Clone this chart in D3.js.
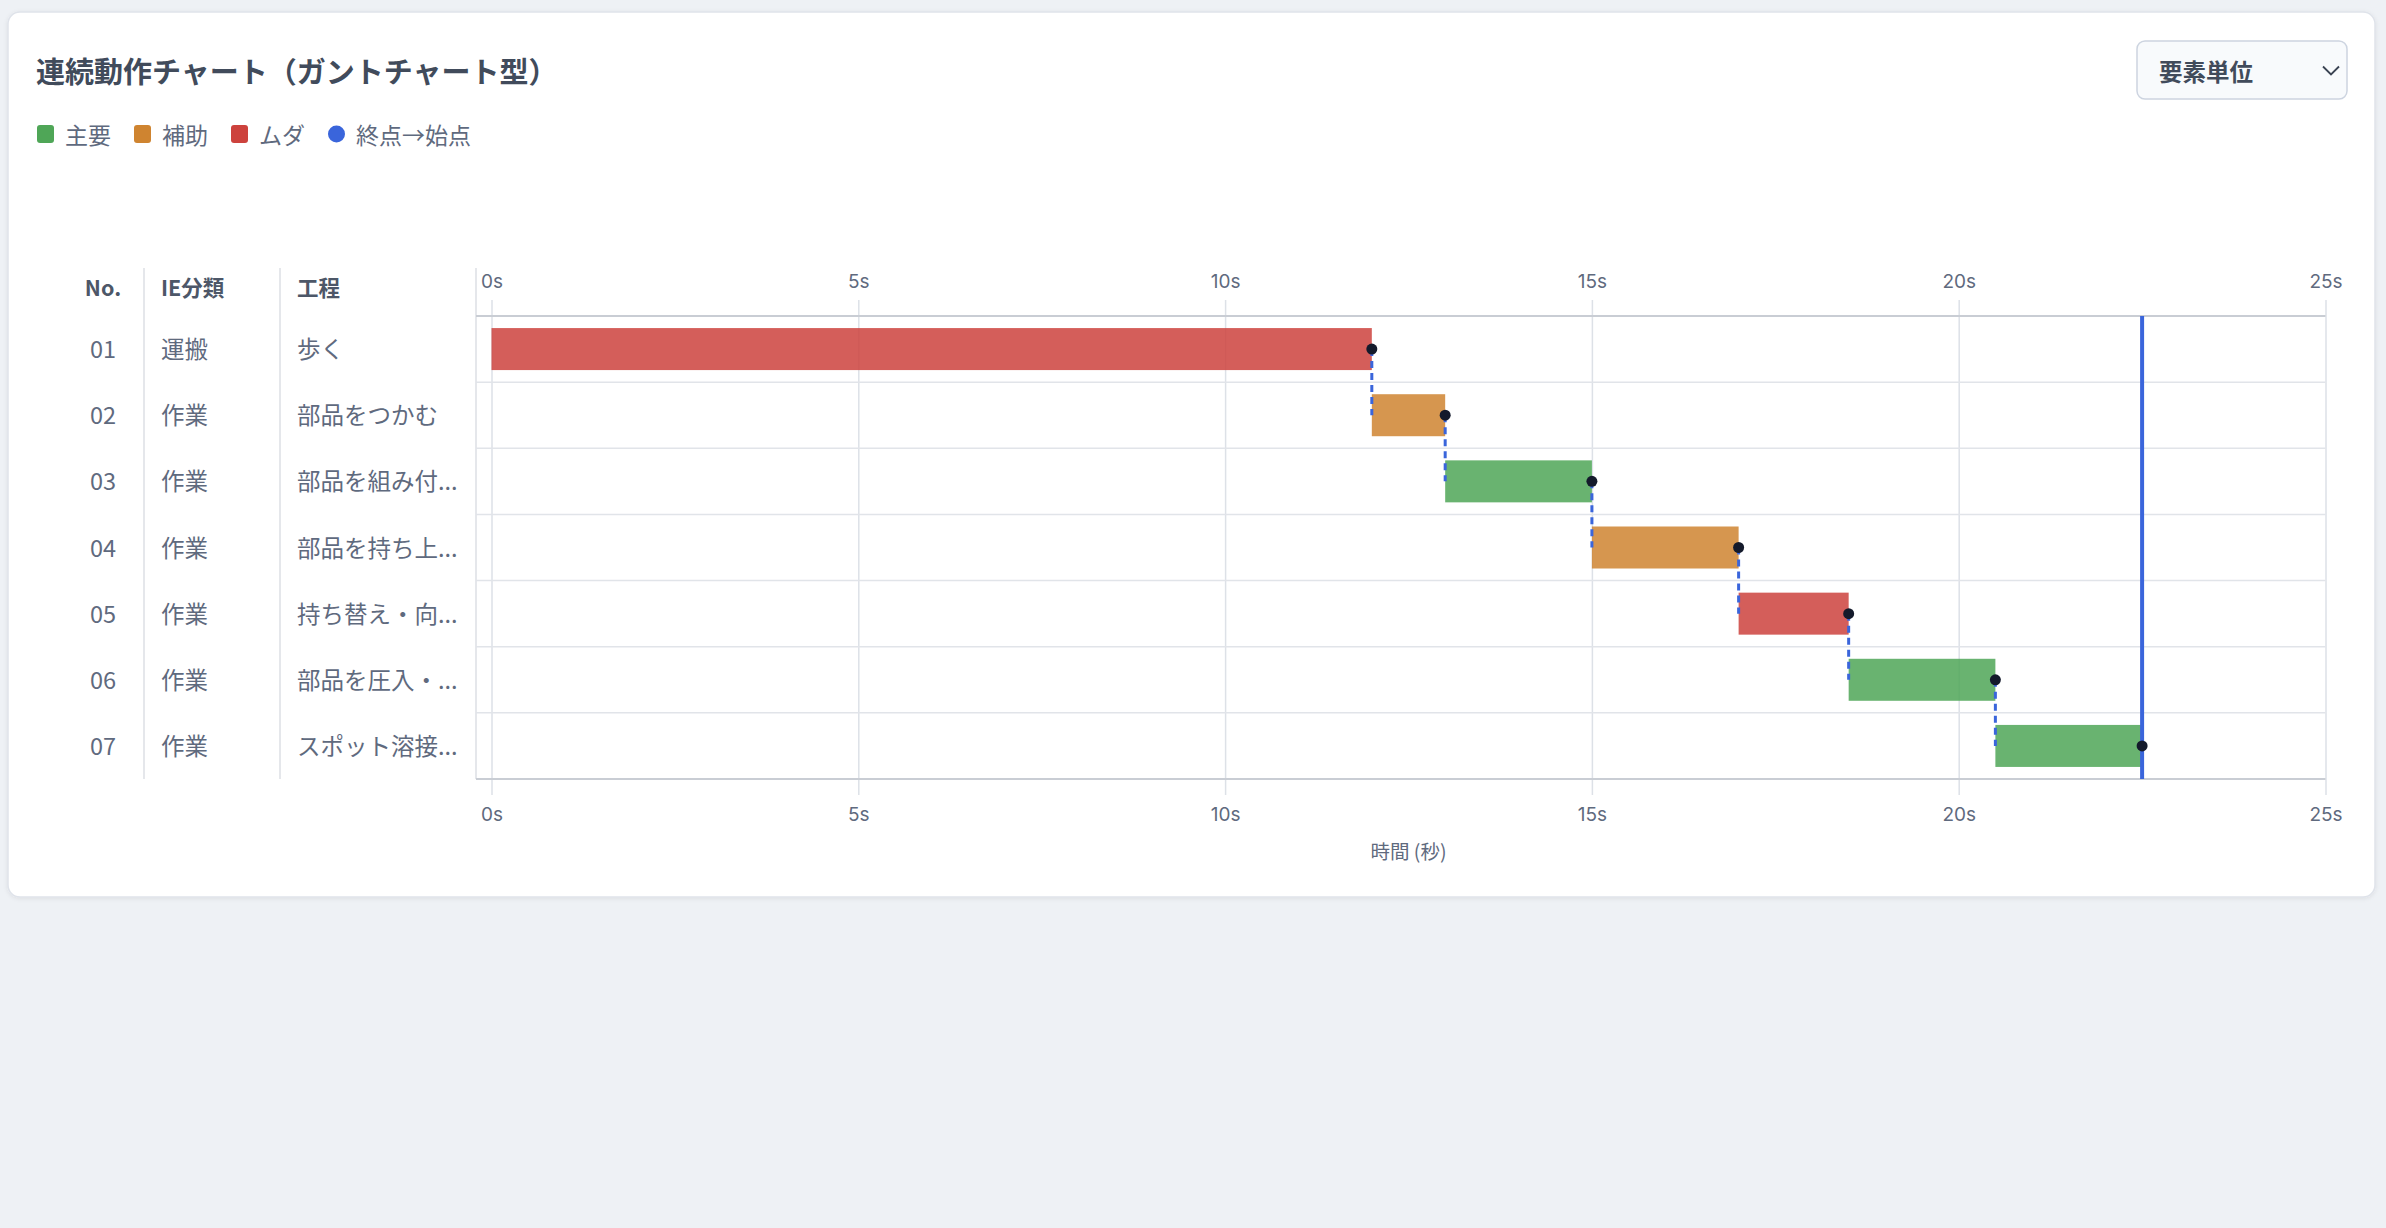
<!DOCTYPE html>
<html lang="ja">
<head>
<meta charset="UTF-8">
<title>連続動作チャート</title>
<script src="https://d3js.org/d3.v7.min.js"></script>
<style>
  html, body { margin: 0; padding: 0; background: #eef1f5; }
  body { width: 2386px; height: 1228px; overflow: hidden; font-family: "Noto Sans CJK JP", "Noto Sans", sans-serif; }
  svg { display: block; }
</style>
</head>
<body>
<svg id="chart" width="2386" height="1228"></svg>
<script>
  // --- data ---
  const stepNos = ["01", "02", "03", "04", "05", "06", "07"];
  const ieTypes = ["運搬", "作業", "作業", "作業", "作業", "作業", "作業"];
  const stepNames = ["歩く", "部品をつかむ", "部品を組み付...", "部品を持ち上...", "持ち替え・向...", "部品を圧入・...", "スポット溶接..."];
  const durations = [12, 1, 2, 2, 1.5, 2, 2];           // seconds
  const categories = ["ムダ", "補助", "主要", "補助", "ムダ", "主要", "主要"];
  const legendItems = ["主要", "補助", "ムダ"];
  const xTicks = [0, 5, 10, 15, 20, 25];

  const catColor = { "主要": "#4fa657", "補助": "#cf8430", "ムダ": "#cd423d" };
  const blue = "#3a65db";
  const textDark = "#414b5b";
  const textMid = "#5f6a7e";

  // build rows with cumulative start times
  let t = 0;
  const rows = stepNos.map((no, i) => {
    const r = { no, ie: ieTypes[i], name: stepNames[i], cat: categories[i], start: t, end: t + durations[i] };
    t += durations[i];
    return r;
  });
  const cycleEnd = t;

  const svg = d3.select("#chart");

  // card
  const defs = svg.append("defs");
  const f = defs.append("filter").attr("id", "shadow").attr("x", "-5%").attr("y", "-5%").attr("width", "110%").attr("height", "110%");
  f.append("feDropShadow").attr("dx", 0).attr("dy", 1).attr("stdDeviation", 2).attr("flood-color", "#000").attr("flood-opacity", 0.08);
  svg.append("rect")
    .attr("x", 8).attr("y", 12).attr("width", 2367).attr("height", 885)
    .attr("rx", 12)
    .attr("fill", "#fff").attr("stroke", "#dfe3ea").attr("stroke-width", 1.5)
    .attr("filter", "url(#shadow)");

  // title
  svg.append("text")
    .attr("x", 36).attr("y", 70)
    .attr("dominant-baseline", "central")
    .attr("font-size", 29).attr("font-weight", 700)
    .attr("fill", textDark)
    .text("連続動作チャート（ガントチャート型）");

  // select box (要素単位)
  const sel = svg.append("g");
  sel.append("rect")
    .attr("x", 2137).attr("y", 41).attr("width", 210).attr("height", 58).attr("rx", 8)
    .attr("fill", "#f8fafc").attr("stroke", "#cdd4e0").attr("stroke-width", 1.5);
  sel.append("text")
    .attr("x", 2159).attr("y", 71)
    .attr("dominant-baseline", "central")
    .attr("font-size", 23.5).attr("font-weight", 700)
    .attr("fill", textDark)
    .text("要素単位");
  sel.append("path")
    .attr("d", "M2323,66.5 L2331,74.5 L2339,66.5")
    .attr("fill", "none").attr("stroke", "#3a4352").attr("stroke-width", 1.8);

  // legend
  const legend = svg.append("g").attr("transform", "translate(37,134)");
  let lx = 0;
  legendItems.forEach(name => {
    legend.append("rect")
      .attr("x", lx).attr("y", -9).attr("width", 17).attr("height", 18).attr("rx", 3)
      .attr("fill", catColor[name]);
    const tx = legend.append("text")
      .attr("x", lx + 28).attr("y", 0)
      .attr("dominant-baseline", "central")
      .attr("font-size", 23).attr("fill", textMid)
      .text(name);
    lx += 28 + tx.node().getComputedTextLength() + 23;
  });
  legend.append("circle").attr("cx", lx + 8.5).attr("cy", 0).attr("r", 8.5).attr("fill", blue);
  legend.append("text")
    .attr("x", lx + 28).attr("y", 0)
    .attr("dominant-baseline", "central")
    .attr("font-size", 23).attr("fill", textMid)
    .text("終点→始点");

  // scales
  const x = d3.scaleLinear().domain([0, 25]).range([491.5, 2325.5]);
  const y = d3.scaleBand().domain(stepNos).range([316, 779]).padding(0);
  const bw = y.bandwidth();
  const barH = 42;
  const frameLeft = x(0) - 15.5;
  const tableTop = 268;

  // table columns
  const colSep = [144, 280, frameLeft];
  svg.append("g").selectAll("line").data(colSep).join("line")
    .attr("x1", d => d).attr("x2", d => d)
    .attr("y1", tableTop).attr("y2", 779)
    .attr("stroke", "#dcdfe5").attr("stroke-width", 1.5);

  const header = svg.append("g").attr("font-size", 21.5).attr("font-weight", 700).attr("fill", "#4d5768");
  header.append("text").attr("x", 103).attr("y", 286).attr("text-anchor", "middle").attr("dominant-baseline", "central").text("No.");
  header.append("text").attr("x", 161).attr("y", 286).attr("dominant-baseline", "central").text("IE分類");
  header.append("text").attr("x", 297).attr("y", 286).attr("dominant-baseline", "central").text("工程");

  const tableRows = svg.append("g").selectAll("g").data(rows).join("g")
    .attr("transform", d => `translate(0,${y(d.no) + bw / 2 - 1})`)
    .attr("font-size", 23.5).attr("fill", textMid);
  tableRows.append("text").attr("x", 103).attr("text-anchor", "middle").attr("dominant-baseline", "central").text(d => d.no);
  tableRows.append("text").attr("x", 161).attr("dominant-baseline", "central").text(d => d.ie);
  tableRows.append("text").attr("x", 297).attr("dominant-baseline", "central").text(d => d.name);

  // axes (top with grid lines)
  const topAxis = svg.append("g")
    .attr("transform", "translate(0,300)")
    .call(d3.axisTop(x).tickValues(xTicks).tickFormat(d => d + "s").tickSize(-495).tickPadding(0));
  topAxis.select(".domain").remove();
  topAxis.selectAll("line").attr("stroke", "#dde1e7").attr("stroke-width", 1.5);
  topAxis.selectAll("text")
    .attr("y", -19).attr("dy", null)
    .attr("dominant-baseline", "central")
    .attr("font-family", "Inter, 'Noto Sans', sans-serif")
    .attr("font-size", 19).attr("fill", textMid);

  const bottomAxis = svg.append("g")
    .attr("transform", "translate(0,814)")
    .call(d3.axisBottom(x).tickValues(xTicks).tickFormat(d => d + "s").tickSize(0).tickPadding(0));
  bottomAxis.select(".domain").remove();
  bottomAxis.selectAll("text")
    .attr("y", 0).attr("dy", null)
    .attr("dominant-baseline", "central")
    .attr("font-family", "Inter, 'Noto Sans', sans-serif")
    .attr("font-size", 19).attr("fill", textMid);

  svg.append("text")
    .attr("x", (x(0) + x(25)) / 2).attr("y", 850)
    .attr("text-anchor", "middle").attr("dominant-baseline", "central")
    .attr("font-size", 19.5).attr("fill", textMid)
    .text("時間 (秒)");

  // row lines
  const rowEdges = stepNos.map(n => y(n)).concat([y(stepNos[stepNos.length - 1]) + bw]);
  svg.append("g").selectAll("line").data(rowEdges).join("line")
    .attr("x1", frameLeft).attr("x2", x(25))
    .attr("y1", d => d).attr("y2", d => d)
    .attr("stroke", (d, i) => (i === 0 || i === rowEdges.length - 1) ? "#c9cdd4" : "#e1e4e9")
    .attr("stroke-width", (d, i) => (i === 0 || i === rowEdges.length - 1) ? 2 : 1.5);

  // bars
  svg.append("g").selectAll("rect").data(rows).join("rect")
    .attr("x", d => x(d.start))
    .attr("y", d => y(d.no) + (bw - barH) / 2)
    .attr("width", d => x(d.end) - x(d.start))
    .attr("height", barH)
    .attr("fill", d => catColor[d.cat])
    .attr("fill-opacity", 0.85);

  // dashed connectors end -> next start
  svg.append("g").selectAll("line").data(rows.slice(0, -1)).join("line")
    .attr("x1", d => x(d.end)).attr("x2", d => x(d.end))
    .attr("y1", d => y(d.no) + bw / 2)
    .attr("y2", d => y(d.no) + bw * 1.5)
    .attr("stroke", blue).attr("stroke-width", 3)
    .attr("stroke-dasharray", "7,5");

  // cycle end line
  svg.append("line")
    .attr("x1", x(cycleEnd)).attr("x2", x(cycleEnd))
    .attr("y1", 316).attr("y2", 779)
    .attr("stroke", blue).attr("stroke-width", 4);

  // end dots
  svg.append("g").selectAll("circle").data(rows).join("circle")
    .attr("cx", d => x(d.end))
    .attr("cy", d => y(d.no) + bw / 2)
    .attr("r", 5.5)
    .attr("fill", "#141a2b");
</script>
</body>
</html>
